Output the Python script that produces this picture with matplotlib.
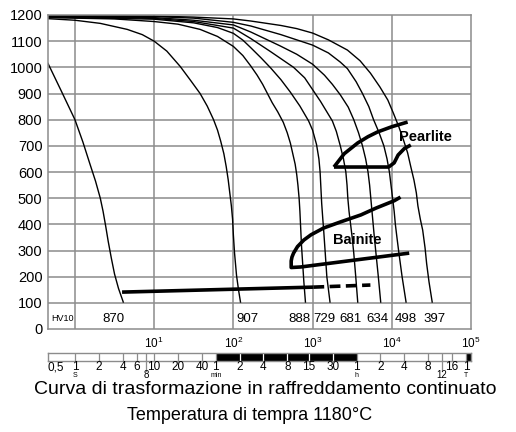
import numpy as np
import matplotlib.pyplot as plt
from matplotlib.ticker import NullLocator
from matplotlib.transforms import blended_transform_factory

plt.rcParams['font.family'] = ['Liberation Sans', 'DejaVu Sans']
plt.rcParams['mathtext.fontset'] = 'custom'
plt.rcParams['mathtext.rm'] = 'Liberation Sans'

# cooling curves: log10(time in s) and temperature (°C)
c1_logt = [-0.34, -0.165, 0.00, 0.10, 0.19, 0.26, 0.32, 0.355, 0.39, 0.42, 0.46, 0.50, 0.55, 0.61]
c1_temp = [1015, 905, 800, 715, 630, 565, 500, 450, 390, 335, 270, 210, 155, 103]

c2_logt = [-0.34, 0.00, 0.32, 0.66, 0.85, 1.00, 1.16, 1.33, 1.46, 1.58, 1.67, 1.75, 1.80,
           1.84, 1.88, 1.91, 1.935, 1.955, 1.975, 1.99, 2.00, 2.015, 2.04, 2.065, 2.09]
c2_temp = [1186, 1180, 1168, 1145, 1125, 1100, 1062, 1003, 950, 900, 852, 800, 760,
           718, 670, 620, 570, 520, 470, 420, 360, 290, 205, 150, 103]

c3_logt = [-0.34, 0.50, 1.00, 1.30, 1.58, 1.80, 2.00, 2.12, 2.22, 2.30, 2.37, 2.43, 2.49, 2.56,
           2.63, 2.68, 2.72, 2.75, 2.78, 2.80, 2.815, 2.83, 2.84, 2.85, 2.86, 2.875, 2.89, 2.91]
c3_temp = [1190, 1185, 1175, 1165, 1145, 1118, 1080, 1045, 1005, 970, 935, 900, 865, 830,
           790, 750, 710, 670, 630, 590, 550, 500, 450, 385, 320, 250, 180, 103]

c4_logt = [-0.34, 1.00, 1.50, 1.80, 2.00, 2.12, 2.22, 2.35, 2.47, 2.60, 2.72, 2.84, 2.95, 3.00,
           3.05, 3.08, 3.095, 3.105, 3.115, 3.13, 3.14, 3.16, 3.18, 3.22]
c4_temp = [1192, 1184, 1170, 1152, 1130, 1104, 1075, 1036, 998, 953, 905, 852, 795, 760,
           705, 650, 600, 540, 480, 417, 378, 290, 200, 103]

c5_logt = [-0.34, 1.00, 1.50, 2.00, 2.22, 2.47, 2.76, 2.90, 3.00, 3.10, 3.18, 3.25, 3.30, 3.35,
           3.39, 3.42, 3.435, 3.445, 3.46, 3.48, 3.50, 3.52, 3.545, 3.57]
c5_temp = [1195, 1187, 1175, 1150, 1110, 1060, 1000, 960, 915, 870, 830, 795, 755, 700,
           650, 600, 550, 500, 450, 400, 350, 290, 200, 103]

c6_logt = [-0.34, 1.00, 1.50, 2.00, 2.22, 2.59, 2.80, 3.00, 3.15, 3.25, 3.35, 3.45, 3.52, 3.58,
           3.63, 3.67, 3.70, 3.72, 3.735, 3.75, 3.765, 3.78, 3.80, 3.83, 3.86]
c6_temp = [1196, 1190, 1180, 1162, 1135, 1082, 1050, 1012, 970, 935, 895, 848, 800, 750,
           700, 650, 600, 550, 500, 450, 400, 350, 290, 200, 103]

c7_logt = [-0.34, 1.00, 1.50, 2.00, 2.22, 2.60, 3.00, 3.20, 3.35, 3.44, 3.55, 3.63, 3.71, 3.77,
           3.84, 3.90, 3.94, 3.97, 3.99, 4.01, 4.03, 4.045, 4.065, 4.09, 4.13, 4.18]
c7_temp = [1197, 1194, 1188, 1172, 1158, 1125, 1085, 1055, 1020, 995, 945, 900, 850, 800,
           750, 700, 650, 600, 550, 500, 450, 400, 350, 290, 200, 103]

c8_logt = [-0.34, 1.00, 1.50, 2.00, 2.22, 2.60, 2.80, 3.00, 3.20, 3.44, 3.60, 3.73, 3.85, 3.95,
           4.02, 4.09, 4.15, 4.20, 4.24, 4.28, 4.31, 4.33, 4.36, 4.39, 4.42, 4.44, 4.47, 4.51]
c8_temp = [1198, 1196, 1192, 1185, 1177, 1160, 1148, 1131, 1105, 1066, 1025, 978, 925, 875,
           825, 772, 720, 673, 620, 569, 520, 470, 420, 378, 310, 250, 180, 103]

# transformation fields
pearl_up_logt = [3.27, 3.40, 3.57, 3.70, 3.82, 4.00, 4.20]
pearl_up_temp = [619, 670, 711, 735, 753, 773, 791]
pearl_lo_logt = [3.27, 3.96, 4.03, 4.08, 4.16, 4.24]
pearl_lo_temp = [619, 619, 635, 665, 690, 703]

bain_logt = [4.11, 4.03, 3.80, 3.61, 3.36, 3.14, 2.98, 2.89, 2.81, 2.76, 2.74, 2.73, 2.73, 2.85, 4.22]
bain_temp = [504, 490, 462, 436, 410, 386, 360, 340, 315, 290, 275, 260, 235, 237, 290]

mart_logt = [0.595, 3.01]
mart_temp = [141, 160]
mart_dash_logt = [3.01, 3.73]
mart_dash_temp = [160, 168]

# hardness HV10 at the end of each curve
hv_values = ['870', '907', '888', '729', '681', '634', '498', '397']
hv_logt = [0.49, 2.18, 2.835, 3.15, 3.48, 3.82, 4.18, 4.54]

# time scale bar below the chart (seconds)
bar_div = [1, 2, 4, 6, 8, 10, 20, 40, 60, 120, 240, 480, 900, 1800, 3600,
           7200, 14400, 28800, 43200, 57600, 86400]
bar_lab_t = [1, 2, 4, 6, 10, 20, 40, 60, 120, 240, 480, 900, 1800, 3600,
             7200, 14400, 28800, 57600, 86400]
bar_lab = ['1', '2', '4', '6', '10', '20', '40', '1', '2', '4', '8', '15', '30', '1',
           '2', '4', '8', '16', '1']
unit_t = [1, 60, 3600, 86400]
unit_lab = ['S', 'min', 'h', 'T']
long_t = [8, 43200]
long_lab = ['8', '12']

grid_c = '#8c8c8c'
xmin = 10**-0.34

fig = plt.figure(figsize=(5.16, 4.32), dpi=100)
ax = fig.add_axes([48/516, 1 - 329/432, 423/516, 314/432])
ax.set_xscale('log')
ax.set_xlim(xmin, 1e5)
ax.set_ylim(0, 1200)

ax.vlines([1, 10, 100, 1e3, 1e4], 0, 1200, color=grid_c, lw=1.1, zorder=0)
ax.hlines(range(100, 1200, 100), xmin, 1e5, color=grid_c, lw=1.1, zorder=0)
for s in ax.spines.values():
    s.set_color(grid_c)
    s.set_linewidth(1.1)

ax.set_yticks(range(0, 1201, 100))
ax.set_xticks([10, 100, 1e3, 1e4, 1e5],
              labels=[r'$\mathregular{10^{%d}}$' % k for k in range(1, 6)])
ax.xaxis.set_minor_locator(NullLocator())
ax.tick_params(axis='y', length=0, labelsize=10.5, pad=4)
ax.tick_params(axis='x', length=0, labelsize=8.5, pad=5)

for lt, tp in [(c1_logt, c1_temp), (c2_logt, c2_temp), (c3_logt, c3_temp),
               (c4_logt, c4_temp), (c5_logt, c5_temp), (c6_logt, c6_temp),
               (c7_logt, c7_temp), (c8_logt, c8_temp)]:
    ax.plot(10**np.array(lt), tp, color='black', lw=1.0)

thick = 2.6
ax.plot(10**np.array(pearl_up_logt), pearl_up_temp, color='black', lw=thick, solid_capstyle='butt')
ax.plot(10**np.array(pearl_lo_logt), pearl_lo_temp, color='black', lw=thick, solid_capstyle='butt')
ax.plot(10**np.array(bain_logt), bain_temp, color='black', lw=thick, solid_capstyle='butt')
ax.plot(10**np.array(mart_logt), mart_temp, color='black', lw=thick, solid_capstyle='butt')
ax.plot(10**np.array(mart_dash_logt), mart_dash_temp, color='black', lw=thick,
        dashes=(3, 1.5))

ax.text(10**4.43, 734, 'Pearlite', ha='center', va='center', fontsize=10.5, fontweight='bold')
ax.text(10**3.57, 340, 'Bainite', ha='center', va='center', fontsize=10.5, fontweight='bold')

for lab, lt in zip(hv_values, hv_logt):
    ax.text(10**lt, 40, lab, ha='center', va='center', fontsize=9.5)
ax.text(10**-0.16, 40, 'HV10', ha='center', va='center', fontsize=6.5)

# time scale bar
bx = fig.add_axes([48/516, 1 - 361/432, 423/516, 8/432])
bx.set_xscale('log')
bx.set_xlim(xmin, 1e5)
bx.set_ylim(0, 1)
bx.set_xticks([])
bx.set_yticks([])
bx.xaxis.set_minor_locator(NullLocator())
for s in bx.spines.values():
    s.set_color(grid_c)
    s.set_linewidth(1.0)
bx.axvspan(60, 3600, color='black', lw=0)
bx.axvspan(86400, 1e5, color='black', lw=0)
for t in bar_div:
    inside = 60 < t < 3600
    bx.axvline(t, color='white' if inside else grid_c, lw=0.9)
for t in long_t:
    bx.plot([t, t], [0, -1.3], color=grid_c, lw=0.9, clip_on=False)

tr = blended_transform_factory(bx.transData, fig.transFigure)
fig.text(xmin, 1 - 367/432, '0,5', transform=tr, ha='left', va='center', fontsize=8.5)
for t, lab in zip(bar_lab_t, bar_lab):
    fig.text(t, 1 - 367/432, lab, transform=tr, ha='center', va='center', fontsize=8.5)
for t, lab in zip(unit_t, unit_lab):
    fig.text(t, 1 - 375.5/432, lab, transform=tr, ha='center', va='center', fontsize=5)
for t, lab in zip(long_t, long_lab):
    fig.text(t, 1 - 375.5/432, lab, transform=tr, ha='center', va='center', fontsize=7)

fig.text(34/516, 1 - 390/432, 'Curva di trasformazione in raffreddamento continuato',
         ha='left', va='center', fontsize=14)
fig.text(250/516, 1 - 415/432, 'Temperatura di tempra 1180°C',
         ha='center', va='center', fontsize=13)

fig.savefig('out.png', dpi=100)
